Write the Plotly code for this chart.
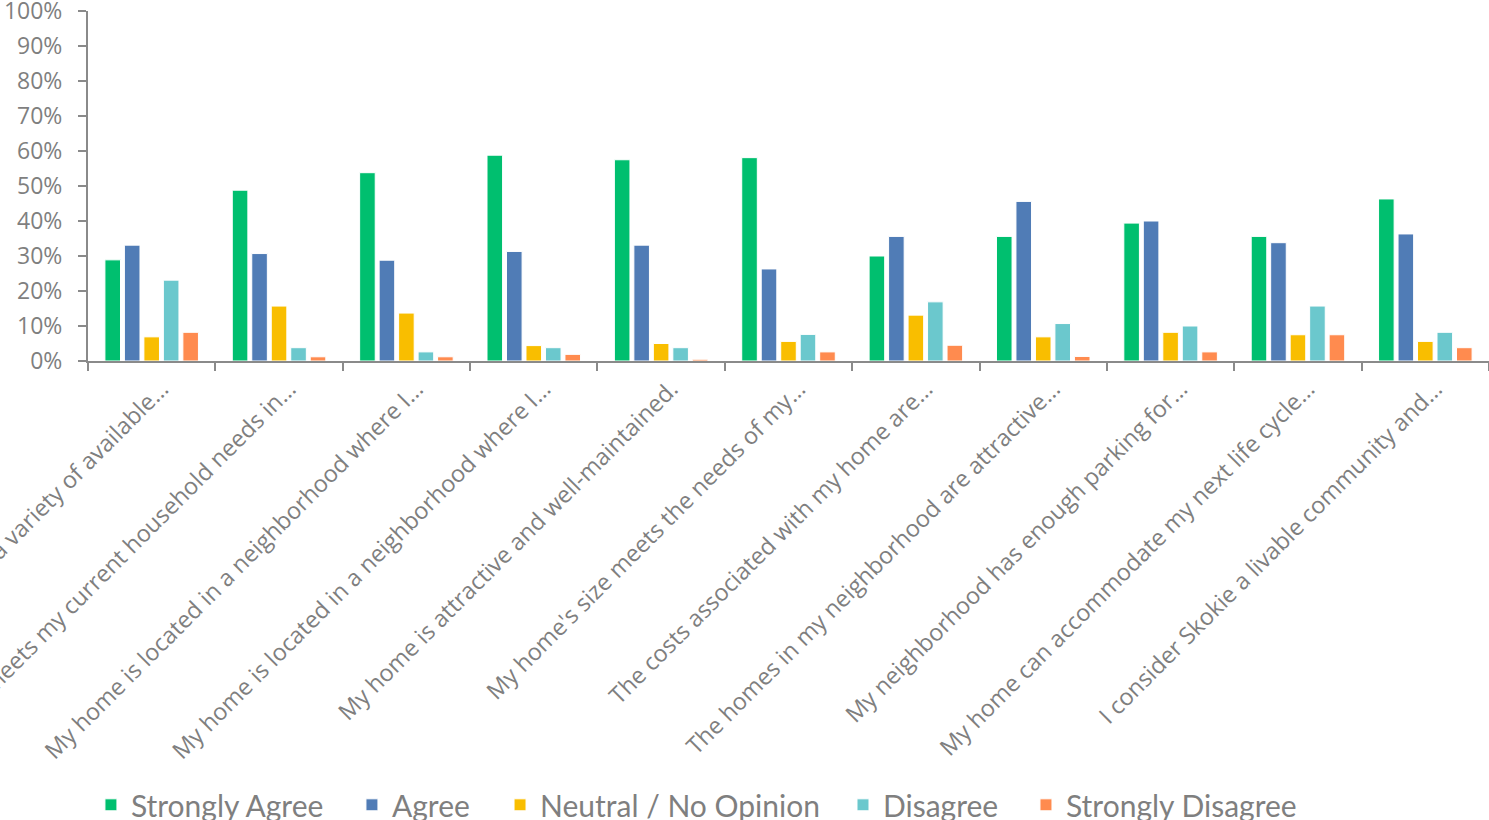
import plotly.graph_objects as go

categories = [
    "My neighborhood has a variety of available…",
    "My home meets my current household needs in…",
    "My home is located in a neighborhood where I…",
    "My home is located in a neighborhood where I…",
    "My home is attractive and well-maintained.",
    "My home's size meets the needs of my…",
    "The costs associated with my home are…",
    "The homes in my neighborhood are attractive…",
    "My neighborhood has enough parking for…",
    "My home can accommodate my next life cycle…",
    "I consider Skokie a livable community and…",
]

series_names = ["Strongly Agree", "Agree", "Neutral / No Opinion", "Disagree", "Strongly Disagree"]

strongly_agree = [0.289, 0.488, 0.538, 0.588, 0.575, 0.581, 0.300, 0.356, 0.394, 0.356, 0.463]
agree = [0.331, 0.307, 0.288, 0.313, 0.331, 0.263, 0.356, 0.456, 0.400, 0.338, 0.363]
neutral = [0.069, 0.157, 0.137, 0.044, 0.050, 0.056, 0.131, 0.069, 0.082, 0.075, 0.056]
disagree = [0.231, 0.038, 0.026, 0.038, 0.038, 0.076, 0.169, 0.107, 0.100, 0.157, 0.082]
strongly_disagree = [0.082, 0.012, 0.012, 0.019, 0.005, 0.026, 0.045, 0.013, 0.026, 0.075, 0.038]

colors = ["#00BF6F", "#507CB6", "#F9BE00", "#6BC8CD", "#FF8B4F"]

y_ticks = [0, 0.1, 0.2, 0.3, 0.4, 0.5, 0.6, 0.7, 0.8, 0.9, 1.0]

# legend entry left positions (paper fraction of plot width)
legend_x = [0.0021, 0.1884, 0.2941, 0.5389, 0.6695]

x_pos = list(range(len(categories)))
boundaries = [i - 0.5 for i in range(len(categories) + 1)]

gray_text = "#7F7F7F"
axis_gray = "#8A8A8A"

fig = go.Figure()
legend_layout = {}
for i, (name, vals, col) in enumerate(zip(series_names,
                                          [strongly_agree, agree, neutral, disagree, strongly_disagree],
                                          colors)):
    lg = "legend" if i == 0 else f"legend{i + 1}"
    fig.add_trace(go.Bar(
        x=x_pos, y=vals, name=name, legend=lg,
        marker=dict(color=col, line=dict(color="white", width=1)),
    ))
    legend_layout[lg] = dict(
        orientation="h", x=legend_x[i], xanchor="left", y=-1.268, yanchor="middle",
        font=dict(family="Lato", size=30, color=gray_text),
        itemwidth=30, bgcolor="rgba(0,0,0,0)",
    )

fig.update_layout(
    width=1489, height=820,
    margin=dict(l=88, r=0, t=11, b=459, autoexpand=False),
    paper_bgcolor="white", plot_bgcolor="white",
    barmode="group", bargap=0.235, bargroupgap=0.2,
    font=dict(family="Open Sans", color=gray_text),
    showlegend=True,
    **legend_layout,
)

fig.update_xaxes(
    range=[-0.5, len(categories) - 0.5],
    tickmode="array", tickvals=x_pos, ticktext=categories,
    tickangle=-45, ticks="", showgrid=False, zeroline=False,
    showline=True, linecolor=axis_gray, linewidth=2,
    tickfont=dict(family="Open Sans", size=23.4, color=gray_text),
    ticklabeloverflow="allow", ticklabelstandoff=3, ticklabelshift=10,
    automargin=False,
    minor=dict(tickmode="array", tickvals=boundaries, ticks="outside",
               ticklen=8, tickwidth=2, tickcolor=axis_gray, showgrid=False),
)

fig.update_yaxes(
    range=[0, 1], tickmode="array", tickvals=y_ticks, tickformat=".0%",
    ticks="outside", ticklen=8, tickwidth=2, tickcolor=axis_gray,
    showline=True, linecolor=axis_gray, linewidth=2,
    showgrid=False, zeroline=False,
    tickfont=dict(family="Open Sans", size=23, color=gray_text),
    ticklabelstandoff=11, ticklabeloverflow="allow",
    automargin=False,
)

fig.write_html("out.html")
